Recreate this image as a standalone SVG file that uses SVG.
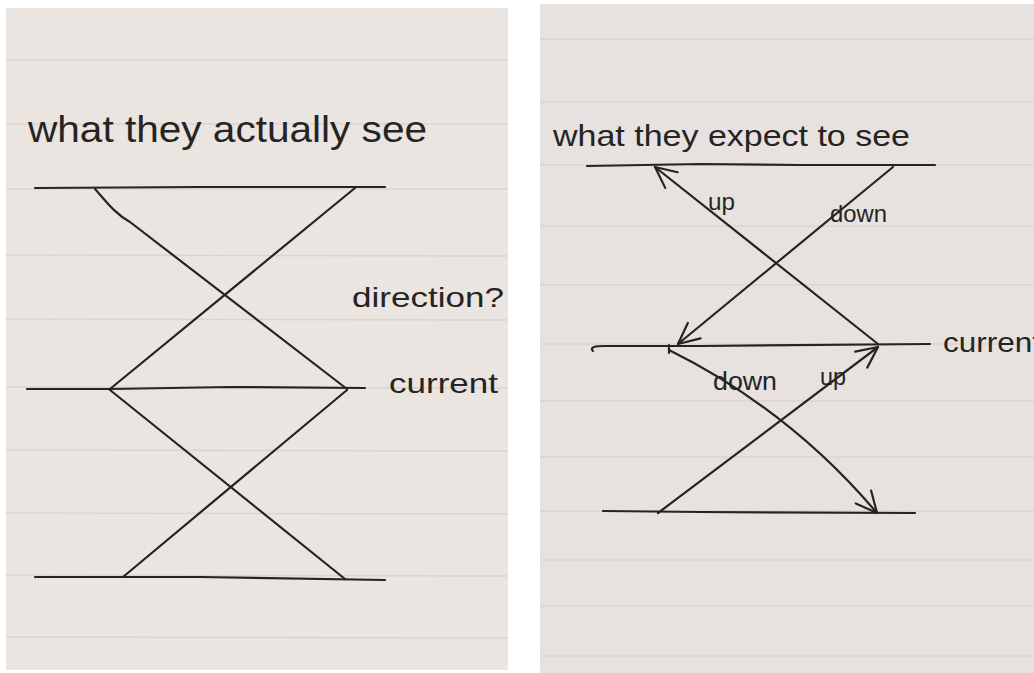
<svg xmlns="http://www.w3.org/2000/svg" width="1034" height="673" viewBox="0 0 1034 673">
  <style>
    .page-l { fill: #EBE5E1; }
    .page-r { fill: #E7E2DF; }
    .rule { stroke: #DAD4D0; stroke-width: 1.3; fill: none; }
    .ink { stroke: #262422; stroke-width: 2.2; fill: none; stroke-linecap: round; stroke-linejoin: round; }
    .hand { font-family: "Liberation Sans", "DejaVu Sans", sans-serif; fill: #262422; }
  </style>
  <defs>
    <marker id="barb" markerUnits="userSpaceOnUse" markerWidth="30" markerHeight="30" viewBox="-25 -15 30 30" refX="0" refY="0" orient="auto">
      <path d="M-21,-10 L0,0 L-21,10" fill="none" stroke="#262422" stroke-width="2.2" stroke-linecap="round" stroke-linejoin="round"/>
    </marker>
    <clipPath id="clipR"><rect x="540" y="4" width="494" height="669"/></clipPath>
  </defs>

  <rect width="1034" height="673" fill="#FFFFFF"/>

  <!-- Left page -->
  <g id="page-left">
    <rect class="page-l" x="6" y="8" width="502" height="662"/>
    <g class="rule">
      <line x1="6" y1="60" x2="508" y2="60"/>
      <line x1="6" y1="124" x2="508" y2="124"/>
      <line x1="6" y1="189" x2="508" y2="189"/>
      <line x1="6" y1="255" x2="508" y2="256"/>
      <line x1="6" y1="319" x2="508" y2="320"/>
      <line x1="6" y1="387" x2="508" y2="388"/>
      <line x1="6" y1="450" x2="508" y2="451"/>
      <line x1="6" y1="513" x2="508" y2="514"/>
      <line x1="6" y1="575" x2="508" y2="576"/>
      <line x1="6" y1="637" x2="508" y2="638"/>
    </g>
  </g>

  <!-- Right page -->
  <g id="page-right">
    <rect class="page-r" x="540" y="4" width="494" height="669"/>
    <g class="rule">
      <line x1="540" y1="39" x2="1034" y2="39"/>
      <line x1="540" y1="102" x2="1034" y2="102"/>
      <line x1="540" y1="165" x2="1034" y2="165"/>
      <line x1="540" y1="226" x2="1034" y2="226"/>
      <line x1="540" y1="285" x2="1034" y2="285"/>
      <line x1="540" y1="344" x2="1034" y2="344"/>
      <line x1="540" y1="401" x2="1034" y2="401"/>
      <line x1="540" y1="457" x2="1034" y2="457"/>
      <line x1="540" y1="511" x2="1034" y2="511"/>
      <line x1="540" y1="560" x2="1034" y2="560"/>
      <line x1="540" y1="606" x2="1034" y2="606"/>
      <line x1="540" y1="656" x2="1034" y2="656"/>
    </g>
  </g>

  <!-- Left sketch: what they actually see -->
  <g id="left-title">
    <text class="hand" x="28" y="142" font-size="36" textLength="399" lengthAdjust="spacingAndGlyphs">what they actually see</text>
  </g>
  <g id="left-top-line">
    <path class="ink" d="M35,188 L200,187 L385,187"/>
  </g>
  <g id="left-mid-line">
    <path class="ink" d="M27,389 L110,389 L230,387 L365,388"/>
  </g>
  <g id="left-bottom-line">
    <path class="ink" d="M35,577 L200,577 L385,580"/>
  </g>
  <g id="left-direction">
    <text class="hand" x="352" y="307" font-size="28" textLength="152" lengthAdjust="spacingAndGlyphs">direction?</text>
  </g>
  <g id="left-current">
    <text class="hand" x="389" y="393" font-size="28" textLength="109" lengthAdjust="spacingAndGlyphs">current</text>
  </g>

  <!-- Right sketch: what they expect to see -->
  <g id="right-title">
    <text class="hand" x="553" y="146" font-size="30" textLength="357" lengthAdjust="spacingAndGlyphs">what they expect to see</text>
  </g>
  <g id="right-top-line">
    <path class="ink" d="M587,166 L700,164 L800,165 L935,165"/>
  </g>
  <g id="right-mid-line">
    <path class="ink" d="M604,346 C596,346 589,347 593,351"/>
    <path class="ink" d="M604,346 L700,346 L930,344"/>
    <path class="ink" d="M669,345 L669,353"/>
  </g>
  <g id="right-bottom-line">
    <path class="ink" d="M603,511 L700,512 L915,513"/>
  </g>
  <g id="right-current" clip-path="url(#clipR)">
    <text class="hand" x="943" y="352" font-size="28" textLength="98" lengthAdjust="spacingAndGlyphs">current</text>
  </g>
  <g id="label-up-1">
    <text class="hand" x="708" y="210" font-size="24" textLength="27" lengthAdjust="spacingAndGlyphs">up</text>
  </g>
  <g id="label-down-1">
    <text class="hand" x="830" y="222" font-size="24" textLength="57" lengthAdjust="spacingAndGlyphs">down</text>
  </g>
  <g id="label-down-2">
    <text class="hand" x="713" y="390" font-size="26" textLength="64" lengthAdjust="spacingAndGlyphs">down</text>
  </g>
  <g id="label-up-2">
    <text class="hand" x="820" y="385" font-size="24" textLength="26" lengthAdjust="spacingAndGlyphs">up</text>
  </g>

  <!-- Connectors -->
  <g id="connectors">
    <!-- left page crossings -->
    <path class="ink" d="M95,189 C105,200 115,214 130,222 L347,389"/>
    <path class="ink" d="M355,188 L110,389"/>
    <path class="ink" d="M110,390 L345,579"/>
    <path class="ink" d="M347,390 L123,577"/>
    <!-- right page arrows -->
    <path class="ink" d="M878,344 L655,167" marker-end="url(#barb)"/>
    <path class="ink" d="M893,167 L678,344" marker-end="url(#barb)"/>
    <path class="ink" d="M669,350 Q790,410 877,513" marker-end="url(#barb)"/>
    <path class="ink" d="M658,513 L878,347" marker-end="url(#barb)"/>
  </g>
</svg>
